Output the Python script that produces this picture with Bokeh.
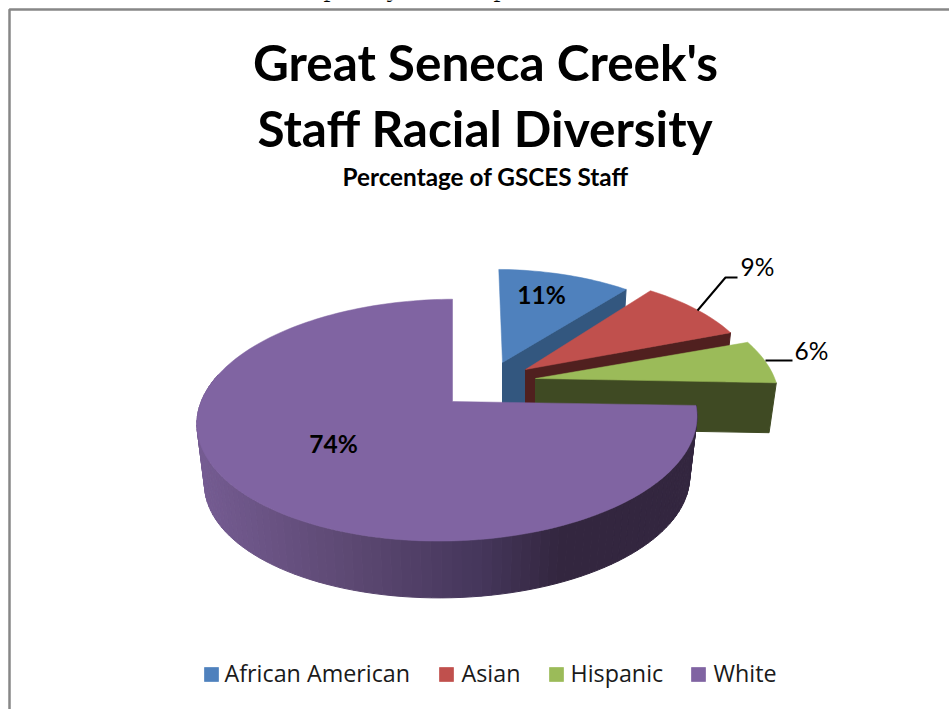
import math

from bokeh.core.properties import value
from bokeh.embed import file_html
from bokeh.plotting import figure
from bokeh.resources import INLINE

# Chart content
categories = ["African American", "Asian", "Hispanic", "White"]
shares = [11, 9, 6, 74]
top_colors = ["#4f81bd", "#c0504d", "#9bbb59", "#8064a2"]
wall_colors = ["#33577f", "#50201f", "#3f4a23", "#33263f"]
title_lines = ["Great Seneca Creek's", "Staff Racial Diversity"]
subtitle = "Percentage of GSCES Staff"

# Placement of each exploded wedge on the page
wedge_apex_x = [502, 525, 535, 452]
wedge_apex_y = [362, 369, 378, 401]
wedge_scale = [0.91, 0.945, 0.985, 1.0]
wedge_depth = [55, 54, 50, 61]
wedge_lean = [0.04, 0.085, 0.13, 0.0]
wedge_tip = [0.0, -0.022, -0.012, -0.014]

# Page-space canvas, y grows downwards
WIDTH, HEIGHT = 949, 709
p = figure(width=WIDTH, height=HEIGHT, x_range=(0, WIDTH), y_range=(HEIGHT, 0),
           output_backend="svg", toolbar_location=None, min_border=0,
           background_fill_color="white", border_fill_color="white")
p.axis.visible = False
p.grid.visible = False
p.outline_line_color = None

# Perspective disc: tilt towards the viewer plus a small sideways camera offset
RX, RY, TILT, SIDE = 247.0, 118.0, 0.1535, -0.022
BOTTOM_SHRINK = 0.97

# The renderer sets alphabetic text this fraction of the font size below its anchor
BASELINE_SHIFT = 0.4


def rim(i, theta_deg):
    """Offset from a wedge's apex for an angle measured clockwise from the top."""
    t = math.radians(theta_deg)
    sx, sz = math.sin(t), -math.cos(t)
    w = 1.0 / (1.0 - TILT * sz - SIDE * sx)
    x, y = RX * sx * w * wedge_scale[i], RY * sz * w * wedge_scale[i]
    return x + wedge_lean[i] * y, y + wedge_tip[i] * x


def arc_points(start, end, step=1.5):
    n = max(2, int(abs(end - start) / step) + 1)
    return [start + (end - start) * k / (n - 1) for k in range(n)]


def face(i, start, end):
    ax, ay = wedge_apex_x[i], wedge_apex_y[i]
    pts = [rim(i, a) for a in arc_points(start, end)]
    return [ax] + [ax + x for x, _ in pts], [ay] + [ay + y for _, y in pts]


def lower(i, theta):
    x, y = rim(i, theta)
    return wedge_apex_x[i] + BOTTOM_SHRINK * x, wedge_apex_y[i] + wedge_depth[i] + BOTTOM_SHRINK * y


def mix(stops, t):
    for (t0, c0), (t1, c1) in zip(stops, stops[1:]):
        if t <= t1:
            f = max(0.0, (t - t0) / (t1 - t0))
            return "#%02x%02x%02x" % tuple(round(a + (b - a) * f) for a, b in zip(c0, c1))
    return "#%02x%02x%02x" % stops[-1][1]


def label(x, y, text, size, font="Lato", style="normal", align="center", color="#000000"):
    p.text([x], [y - BASELINE_SHIFT * size], text=[text], text_font=value(font),
           text_font_style=style, text_font_size=f"{size}px", text_align=align,
           text_baseline="alphabetic", text_color=color)


# Wedge angles follow the shares, clockwise from twelve o'clock
total = sum(shares)
starts, ends = [], []
running = 0.0
for v in shares:
    starts.append(running * 360.0 / total)
    running += v
    ends.append(running * 360.0 / total)

# Outer rim shading of the large wedge, dark on the right, lighter towards the left
rim_stops = [(196, (0x75, 0x5c, 0x92)), (350, (0x5c, 0x48, 0x72)), (480, (0x45, 0x36, 0x5b)),
             (560, (0x33, 0x26, 0x3f)), (700, (0x33, 0x26, 0x3f))]

for i in range(len(shares)):
    s0, s1 = starts[i], ends[i]
    ax, ay, depth = wedge_apex_x[i], wedge_apex_y[i], wedge_depth[i]

    if i == 3:
        angles = arc_points(s0, 285.0, 2.0)
        for a0, a1 in zip(angles, angles[1:]):
            x0, y0 = rim(i, a0)
            x1, y1 = rim(i, a1)
            bx0, by0 = lower(i, a0)
            bx1, by1 = lower(i, a1)
            col = mix(rim_stops, ax + (x0 + x1) / 2)
            p.patch([ax + x0, ax + x1, bx1, bx0], [ay + y0, ay + y1, by1, by0],
                    fill_color=col, line_color=col, line_width=1)
    else:
        # Flat cut face on the trailing side of the wedge
        ex, ey = rim(i, s1)
        bx, by = lower(i, s1)
        p.patch([ax, ax + ex, bx, ax], [ay, ay + ey, by, ay + depth],
                fill_color=wall_colors[i], line_color=wall_colors[i], line_width=1)

    xs, ys = face(i, s0, s1)
    p.patch(xs, ys, fill_color=top_colors[i], line_color=top_colors[i], line_width=0.5)

# Frame of the chart area, open towards the right and the bottom
FRAME = "#878787"
p.line([9, 9, WIDTH], [HEIGHT, 9, 9], line_color=FRAME, line_width=2.5)

# Descenders of the line of page text just above the frame
for x, ch in zip([330, 393, 500], "pyp"):
    label(x, -3, ch, 28, font="Liberation Serif")

# Titles
label(485, 81, title_lines[0], 49.5, style="bold")
label(485, 147, title_lines[1], 49.5, style="bold")
label(485, 186, subtitle, 24.3, style="bold")

# Leader lines of the two outside labels
p.line([697, 725, 737], [310, 277, 277], line_color="#000000", line_width=2)
p.line([765, 792], [360, 360], line_color="#000000", line_width=2)

# Percentage labels
label_x = [541, 757, 811, 333]
label_y = [304, 276, 360, 453]
for i, v in enumerate(shares):
    label(label_x[i], label_y[i], f"{v}%", 24.5, style="bold" if i in (0, 3) else "normal")

# Legend row
swatch_x = [204, 439, 549, 691]
legend_text_x = [224, 461, 570, 713]
for i, name in enumerate(categories):
    p.quad(left=[swatch_x[i]], right=[swatch_x[i] + 14], top=[667], bottom=[681],
           fill_color=top_colors[i], line_color=top_colors[i], line_alpha=0.7, line_width=1)
    label(legend_text_x[i], 682, name, 23.3, font="Open Sans", align="left", color="#1a1a1a")

open("out.html", "w").write(file_html(p, INLINE))
